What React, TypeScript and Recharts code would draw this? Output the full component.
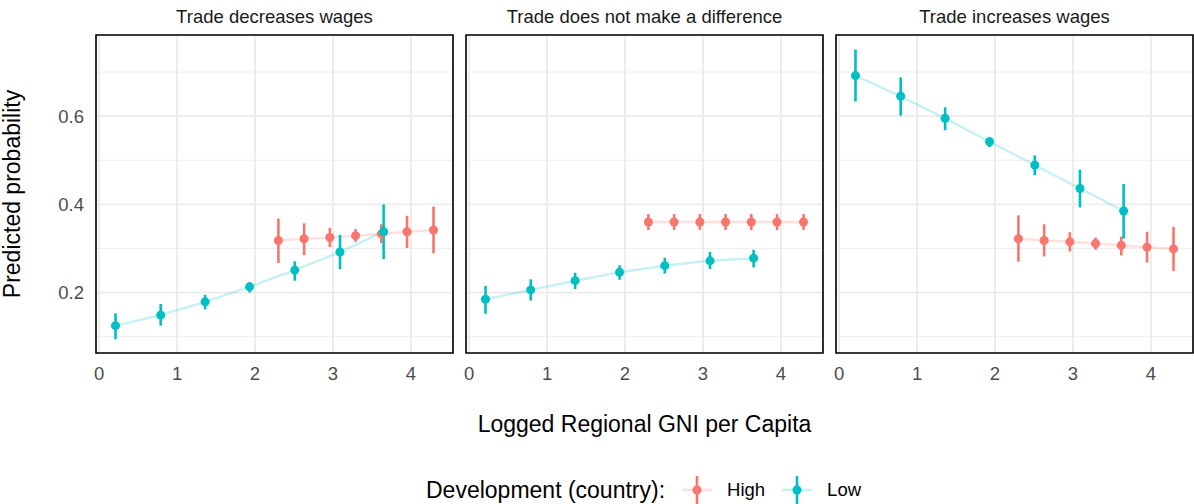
import {
  CartesianGrid,
  ComposedChart,
  ErrorBar,
  Line,
  ReferenceArea,
  Scatter,
  XAxis,
  YAxis,
} from "recharts";

const HIGH = "#F8766D";
const LOW = "#00BFC4";
const GRID = "#EBEBEB";
const TICK = "#4D4D4D";
const FONT = "'Liberation Sans', Arial, Helvetica, sans-serif";

const panelTitles = [
  "Trade decreases wages",
  "Trade does not make a difference",
  "Trade increases wages",
];

const lowGni = [0.21, 0.79, 1.36, 1.93, 2.51, 3.09, 3.65];
const highGni = [2.3, 2.63, 2.96, 3.29, 3.62, 3.95, 4.29];

const xTicks = [0, 1, 2, 3, 4];
const xMinor = [0.5, 1.5, 2.5, 3.5, 4.5];
const yTicks = [0.2, 0.4, 0.6];
const yMinor = [0.1, 0.3, 0.5, 0.7];
const X_DOMAIN = [-0.04, 4.54];
const Y_DOMAIN = [0.063, 0.784];

// Trade decreases wages
const decLowEst = [0.125, 0.149, 0.179, 0.213, 0.251, 0.292, 0.338];
const decLowLo = [0.094, 0.125, 0.162, 0.2, 0.227, 0.253, 0.276];
const decLowHi = [0.153, 0.174, 0.195, 0.224, 0.271, 0.331, 0.4];
const decHighEst = [0.318, 0.322, 0.325, 0.329, 0.333, 0.338, 0.342];
const decHighLo = [0.267, 0.285, 0.303, 0.315, 0.312, 0.301, 0.289];
const decHighHi = [0.368, 0.357, 0.347, 0.344, 0.355, 0.374, 0.395];

// Trade does not make a difference
const sameLowEst = [0.185, 0.206, 0.227, 0.246, 0.261, 0.272, 0.278];
const sameLowLo = [0.152, 0.182, 0.208, 0.229, 0.243, 0.253, 0.257];
const sameLowHi = [0.215, 0.23, 0.245, 0.262, 0.279, 0.292, 0.297];
const sameHighEst = [0.36, 0.36, 0.36, 0.36, 0.36, 0.36, 0.36];
const sameHighLo = [0.342, 0.342, 0.342, 0.342, 0.342, 0.342, 0.342];
const sameHighHi = [0.378, 0.378, 0.378, 0.378, 0.378, 0.378, 0.378];

// Trade increases wages
const incLowEst = [0.692, 0.645, 0.595, 0.542, 0.489, 0.436, 0.385];
const incLowLo = [0.633, 0.601, 0.568, 0.53, 0.466, 0.393, 0.322];
const incLowHi = [0.751, 0.688, 0.62, 0.553, 0.511, 0.479, 0.446];
const incHighEst = [0.322, 0.318, 0.315, 0.311, 0.307, 0.303, 0.299];
const incHighLo = [0.27, 0.282, 0.293, 0.297, 0.284, 0.268, 0.249];
const incHighHi = [0.375, 0.355, 0.337, 0.325, 0.327, 0.338, 0.349];

type Row = { gni: number; p: number; err: [number, number] };

const rows = (xs: number[], est: number[], lo: number[], hi: number[]): Row[] =>
  xs.map((gni, i) => ({ gni, p: est[i], err: [est[i] - lo[i], hi[i] - est[i]] }));

const panels = [
  {
    low: rows(lowGni, decLowEst, decLowLo, decLowHi),
    high: rows(highGni, decHighEst, decHighLo, decHighHi),
  },
  {
    low: rows(lowGni, sameLowEst, sameLowLo, sameLowHi),
    high: rows(highGni, sameHighEst, sameHighLo, sameHighHi),
  },
  {
    low: rows(lowGni, incLowEst, incLowLo, incLowHi),
    high: rows(highGni, incHighEst, incHighLo, incHighHi),
  },
];

const PANEL_LEFT = [96, 466, 836];
const PANEL_W = 357;
const CHART_H = 395;
const TOP = 35;

function Panel({ index }: { index: number }) {
  const { low, high } = panels[index];
  const first = index === 0;
  const left = first ? 0 : PANEL_LEFT[index] - 4;
  const width = first ? PANEL_LEFT[0] + PANEL_W + 4 : PANEL_W + 8;
  return (
    <div style={{ position: "absolute", left, top: 0 }}>
      <ComposedChart
        width={width}
        height={CHART_H}
        margin={{ top: TOP, right: 4, bottom: 0, left: first ? 0 : 4 }}
      >
        <XAxis
          dataKey="gni"
          type="number"
          domain={X_DOMAIN}
          ticks={xTicks}
          allowDataOverflow
          axisLine={false}
          tickLine={false}
          tickSize={6}
          tickMargin={7.5}
          height={CHART_H - TOP - 318}
          tick={{ fill: TICK, fontSize: 18.5 }}
        />
        <XAxis xAxisId="minor" type="number" domain={X_DOMAIN} ticks={xMinor} allowDataOverflow hide />
        <YAxis
          dataKey="p"
          type="number"
          domain={Y_DOMAIN}
          ticks={yTicks}
          allowDataOverflow
          hide={!first}
          width={96}
          axisLine={false}
          tickLine={false}
          tickSize={6}
          tickMargin={6}
          tickFormatter={(v: number) => v.toFixed(1)}
          tick={{ fill: TICK, fontSize: 18.5 }}
        />
        <YAxis yAxisId="minor" type="number" domain={Y_DOMAIN} ticks={yMinor} allowDataOverflow hide />
        <CartesianGrid xAxisId="minor" yAxisId="minor" stroke={GRID} strokeWidth={0.9} />
        <CartesianGrid stroke={GRID} strokeWidth={1.8} />
        <Line
          data={high}
          dataKey="p"
          type="linear"
          stroke={HIGH}
          strokeOpacity={0.22}
          strokeWidth={2.5}
          dot={false}
          activeDot={false}
          isAnimationActive={false}
        />
        <Line
          data={low}
          dataKey="p"
          type="linear"
          stroke={LOW}
          strokeOpacity={0.22}
          strokeWidth={2.5}
          dot={false}
          activeDot={false}
          isAnimationActive={false}
        />
        <Scatter data={high} dataKey="p" fill={HIGH} isAnimationActive={false}>
          <ErrorBar dataKey="err" direction="y" width={0} stroke={HIGH} strokeWidth={2.6} isAnimationActive={false} />
        </Scatter>
        <Scatter data={low} dataKey="p" fill={LOW} isAnimationActive={false}>
          <ErrorBar dataKey="err" direction="y" width={0} stroke={LOW} strokeWidth={2.6} isAnimationActive={false} />
        </Scatter>
        <ReferenceArea
          x1={X_DOMAIN[0]}
          x2={X_DOMAIN[1]}
          y1={Y_DOMAIN[0]}
          y2={Y_DOMAIN[1]}
          fill="none"
          stroke="#000000"
          strokeWidth={1.6}
          ifOverflow="visible"
        />
      </ComposedChart>
    </div>
  );
}

function LegendKey({ color }: { color: string }) {
  return (
    <svg width={30} height={28} style={{ display: "block" }}>
      <line x1={0} x2={30} y1={14} y2={14} stroke={color} strokeOpacity={0.22} strokeWidth={2.5} />
      <line x1={15} x2={15} y1={0} y2={28} stroke={color} strokeWidth={2.6} />
      <circle cx={15} cy={14} r={4.5} fill={color} />
    </svg>
  );
}

export default function App() {
  return (
    <div
      style={{
        position: "absolute",
        left: 0,
        top: 0,
        width: 1194,
        height: 504,
        background: "#FFFFFF",
        fontFamily: FONT,
        overflow: "hidden",
      }}
    >
      {panelTitles.map((t, i) => (
        <div
          key={t}
          style={{
            position: "absolute",
            left: PANEL_LEFT[i],
            width: PANEL_W,
            top: 7,
            textAlign: "center",
            fontSize: 18.5,
            lineHeight: "20px",
            color: "#1A1A1A",
          }}
        >
          {t}
        </div>
      ))}
      {[0, 1, 2].map((i) => (
        <Panel key={i} index={i} />
      ))}
      <svg width={30} height={504} style={{ position: "absolute", left: 0, top: 0 }}>
        <text
          x={20}
          y={194}
          transform="rotate(-90 20 194)"
          textAnchor="middle"
          fontSize={23}
          fill="#000000"
        >
          Predicted probability
        </text>
      </svg>
      <div
        style={{
          position: "absolute",
          left: 96,
          width: 1097,
          top: 411,
          textAlign: "center",
          fontSize: 23,
          lineHeight: "26px",
          color: "#000000",
        }}
      >
        Logged Regional GNI per Capita
      </div>
      <div
        style={{
          position: "absolute",
          left: 426,
          top: 476,
          height: 28,
          display: "flex",
          alignItems: "center",
          whiteSpace: "nowrap",
          color: "#000000",
        }}
      >
        <span style={{ fontSize: 23, lineHeight: "28px" }}>Development (country):</span>
        <span style={{ marginLeft: 17 }}>
          <LegendKey color={HIGH} />
        </span>
        <span style={{ marginLeft: 15, fontSize: 18.5, lineHeight: "28px" }}>High</span>
        <span style={{ marginLeft: 17 }}>
          <LegendKey color={LOW} />
        </span>
        <span style={{ marginLeft: 15, fontSize: 18.5, lineHeight: "28px" }}>Low</span>
      </div>
    </div>
  );
}
